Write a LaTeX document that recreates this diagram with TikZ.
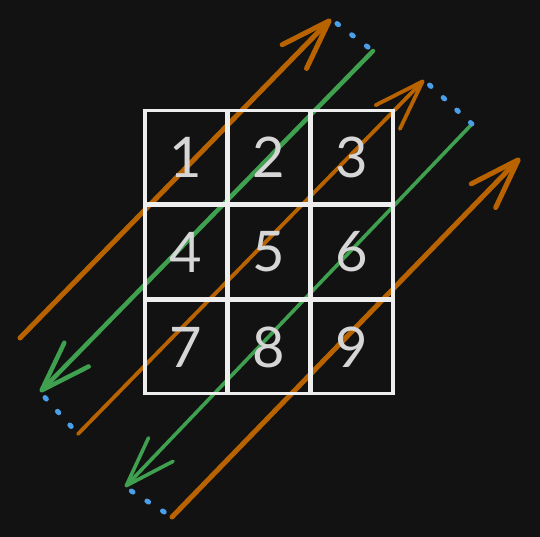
\documentclass[tikz,border=0pt]{standalone}
\usepackage{fontspec}
\setmainfont{Lato}
\usetikzlibrary{arrows.meta}
\definecolor{bgdark}{HTML}{121212}
\definecolor{orangeline}{HTML}{B96300}
\definecolor{greenline}{HTML}{3FA04F}
\definecolor{bluedot}{HTML}{4A9FE8}
\definecolor{gridwhite}{HTML}{EEEEEE}
\definecolor{digitgray}{HTML}{D6D6D6}
\tikzset{
	sweep/.style={line width=4.5pt,line cap=round,-{Straight Barb[round,length=50pt,width=34pt]}},
	upsweep/.style={sweep,draw=orangeline},
	downsweep/.style={sweep,draw=greenline},
	hop/.style={draw=bluedot,line width=5pt,line cap=round,dash pattern=on 2pt off 16.5pt,dash phase=11pt},
	cell/.style={draw=gridwhite,line width=3.8pt,minimum width=82pt,minimum height=93pt,inner sep=0pt,text=digitgray,font=\fontsize{56}{60}\selectfont}
}
\begin{document}
\begin{tikzpicture}[x=1pt,y=-1pt]
\fill[bgdark] (0,0) rectangle (540,537);
\useasboundingbox (0,0) rectangle (540,537);
\coordinate (o1s) at (20,338);
\coordinate (o1e) at (331,19);
\coordinate (g1s) at (373,51);
\coordinate (g1e) at (40,392);
\coordinate (o2s) at (78,434);
\coordinate (o2e) at (424,80);
\coordinate (g2s) at (472,124);
\coordinate (g2e) at (125,487);
\coordinate (o3s) at (172,517);
\coordinate (o3e) at (520,158);
\draw[upsweep,line width=5pt] (o1s) -- (o1e);
\draw[downsweep] (g1s) -- (g1e);
\draw[upsweep,line width=3.8pt] (o2s) -- (o2e);
\draw[downsweep,line width=3.6pt] (g2s) -- (g2e);
\draw[upsweep,line width=5pt] (o3s) -- (o3e);
\foreach \a/\b in {o1e/g1s,g1e/o2s,o2e/g2s,g2e/o3s}{
	\draw[hop] (\a) -- (\b);}
\foreach \d/\x/\y in {1/186/157,2/269/157,3/352/157,4/186/252,5/269/252,6/352/252,7/186/347,8/269/347,9/352/347}{
	\node[cell] (c\d) at (\x,\y) {\d};}
\end{tikzpicture}
\end{document}
